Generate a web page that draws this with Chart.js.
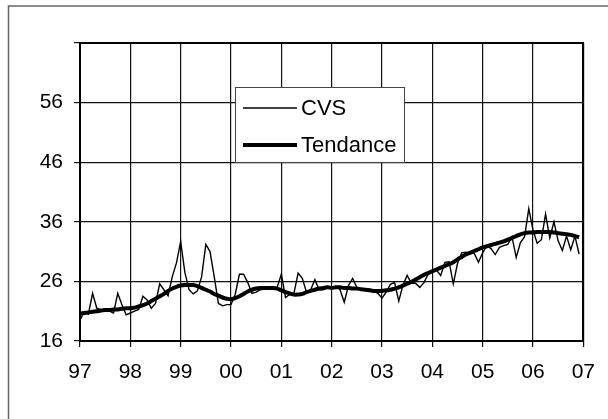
<!DOCTYPE html>
<html>
<head>
<meta charset="utf-8">
<script src="https://cdn.jsdelivr.net/npm/chart.js@4.4.0/dist/chart.umd.min.js"></script>
<style>
  html, body { margin: 0; padding: 0; background: #fff; }
  canvas { display: block; }
</style>
</head>
<body>
<canvas id="chart" width="608" height="419"></canvas>
<script>
// ===============================
// Data (monthly, Jan 1997 - Dec 2006)
// ===============================
const yearLabels = ['97', '98', '99', '00', '01', '02', '03', '04', '05', '06', '07'];
const yTicks = [16, 26, 36, 46, 56];

const cvs = [
  19.5, 20.9, 20.5, 24.0, 21.5, 21.2, 21.4, 21.0, 20.7, 24.0, 22.1, 20.4,
  20.7, 21.0, 21.3, 23.5, 22.9, 21.5, 22.3, 25.6, 24.6, 23.6, 26.8, 29.1,
  32.7, 27.5, 24.6, 23.9, 24.4, 26.8, 32.2, 31.0, 26.8, 22.3, 21.9, 22.1,
  22.1, 23.8, 27.2, 27.2, 25.8, 24.0, 24.2, 24.6, 24.7, 24.8, 24.8, 25.0,
  27.2, 23.3, 23.8, 24.0, 27.4, 26.5, 24.2, 24.6, 26.3, 24.6, 24.6, 25.2,
  25.0, 25.2, 24.6, 22.5, 25.3, 26.5, 25.0, 24.7, 24.7, 24.7, 24.4, 24.0,
  23.2, 24.2, 25.5, 25.8, 22.7, 25.4, 27.0, 25.7, 25.7, 25.0, 25.8, 27.2,
  27.9, 27.9, 27.0, 29.2, 29.3, 25.6, 29.0, 30.8, 30.9, 30.7, 30.7, 29.2,
  30.8, 32.0, 31.5, 30.5, 31.7, 32.0, 32.2, 33.5, 30.0, 32.5, 33.5, 38.2,
  34.6, 32.4, 33.0, 37.3, 33.3, 36.0, 32.8, 31.2, 33.6, 31.3, 33.6, 30.6
];

const tendance = [
  20.6, 20.7, 20.8, 20.9, 21.0, 21.1, 21.2, 21.2, 21.3, 21.3, 21.4, 21.5,
  21.5, 21.6, 21.8, 22.0, 22.3, 22.7, 23.1, 23.5, 23.9, 24.4, 24.8, 25.1,
  25.3, 25.4, 25.4, 25.4, 25.2, 24.9, 24.6, 24.3, 23.9, 23.6, 23.3, 23.1,
  23.0, 23.2, 23.5, 23.9, 24.3, 24.6, 24.8, 24.9, 24.9, 24.9, 24.9, 24.8,
  24.5, 24.2, 24.0, 23.8, 23.8, 23.9, 24.2, 24.4, 24.6, 24.8, 24.9, 25.0,
  24.9, 25.0, 25.0, 24.9, 24.9, 24.8, 24.8, 24.7, 24.6, 24.5, 24.4, 24.4,
  24.4, 24.5, 24.6, 24.8, 25.0, 25.3, 25.6, 25.9, 26.3, 26.7, 27.1, 27.4,
  27.7, 28.0, 28.3, 28.6, 28.9, 29.2, 29.7, 30.1, 30.5, 30.8, 31.1, 31.4,
  31.7, 31.9, 32.1, 32.3, 32.5, 32.7, 33.0, 33.3, 33.6, 33.9, 34.1, 34.2,
  34.2, 34.3, 34.3, 34.3, 34.3, 34.2, 34.1, 34.0, 33.9, 33.8, 33.6, 33.4
];

// month index -> position in years since Jan 97
const toPoints = (arr) => arr.map((v, i) => ({ x: i / 12, y: v }));

const FONT = "'Liberation Sans', Arial, sans-serif";

// ===============================
// Frame + legend box
// ===============================
const decorations = {
  id: 'decorations',
  beforeDraw(chart) {
    const ctx = chart.ctx;
    ctx.save();
    ctx.fillStyle = '#fff';
    ctx.fillRect(0, 0, chart.width, chart.height);
    ctx.strokeStyle = '#666';
    ctx.lineWidth = 1.5;
    ctx.beginPath();
    ctx.moveTo(8.5, chart.height);
    ctx.lineTo(8.5, 6);
    ctx.lineTo(chart.width, 6);
    ctx.stroke();
    ctx.restore();
  },
  afterDraw(chart) {
    const ctx = chart.ctx;
    const area = chart.chartArea;
    ctx.save();
    // top and right border of the plot area
    ctx.fillStyle = '#000';
    ctx.fillRect(area.left, Math.round(area.top) - 1, area.right - area.left, 2);
    ctx.fillRect(Math.round(area.right) - 1, area.top - 1, 2, area.bottom - area.top + 1);

    // legend
    ctx.fillStyle = '#fff';
    ctx.fillRect(235.5, 87.5, 169, 75);
    ctx.strokeStyle = '#444';
    ctx.lineWidth = 1;
    ctx.strokeRect(235.5, 87.5, 169, 75);

    const items = chart.data.datasets;
    const rows = [108, 145];
    ctx.font = '22px ' + FONT;
    ctx.textBaseline = 'middle';
    items.forEach((ds, i) => {
      ctx.strokeStyle = '#000';
      ctx.lineWidth = ds.borderWidth;
      ctx.beginPath();
      ctx.moveTo(243, rows[i]);
      ctx.lineTo(297, rows[i]);
      ctx.stroke();
      ctx.fillStyle = '#000';
      ctx.fillText(ds.label, 301, rows[i] + 1);
    });
    ctx.restore();
  }
};

new Chart(document.getElementById('chart'), {
  type: 'line',
  data: {
    datasets: [
      {
        label: 'CVS',
        data: toPoints(cvs),
        borderColor: '#000',
        borderWidth: 1.4,
        pointRadius: 0,
        tension: 0
      },
      {
        label: 'Tendance',
        data: toPoints(tendance),
        borderColor: '#000',
        borderWidth: 4,
        pointRadius: 0,
        tension: 0.4
      }
    ]
  },
  options: {
    responsive: false,
    animation: false,
    devicePixelRatio: 1,
    layout: { padding: { top: 43, right: 18, left: 0, bottom: 0 } },
    plugins: {
      legend: { display: false },
      tooltip: { enabled: false }
    },
    scales: {
      x: {
        type: 'linear',
        min: 0,
        max: 10,
        afterFit: (s) => { s.height = 78; },
        ticks: {
          stepSize: 1,
          autoSkip: false,
          maxRotation: 0,
          padding: 13,
          color: '#000',
          font: { family: FONT, size: 21 },
          callback: (v) => yearLabels[v]
        },
        grid: { color: '#111', lineWidth: 1.2, tickLength: 6 },
        border: { color: '#000', width: 2 }
      },
      y: {
        min: 16,
        max: 66,
        afterFit: (s) => { s.width = 80; },
        ticks: {
          stepSize: 10,
          padding: 11,
          color: '#000',
          font: { family: FONT, size: 21 },
          callback: (v) => (yTicks.includes(v) ? v : '')
        },
        grid: { color: '#111', lineWidth: 1.2, tickLength: 6 },
        border: { color: '#000', width: 2 }
      }
    }
  },
  plugins: [decorations]
});
</script>
</body>
</html>
